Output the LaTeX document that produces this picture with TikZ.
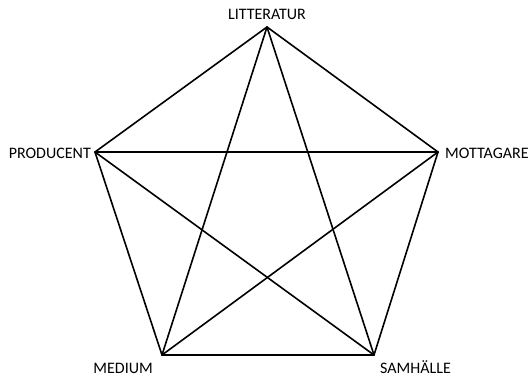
\documentclass[tikz,border=0pt]{standalone}
\usepackage{fontspec}
\setmainfont{Carlito}
\usetikzlibrary{positioning}
\tikzset{
  lbl/.style ={font=\fontsize{16}{18}\selectfont, inner sep=0pt},
  edge/.style={line width=1.6pt, line join=round, line cap=round}
}
\begin{document}
\begin{tikzpicture}[x=1pt, y=-1pt]
    \useasboundingbox (0,0) rectangle (529,377);
    \coordinate (lit) at (267,27);
    \coordinate (prod) at (95,152);
    \coordinate (mott) at (438,152);
    \coordinate (med) at (162,355);
    \coordinate (sam) at (374,355);
    \node[lbl, anchor=base] (litlbl) at (267,20) {LITTERATUR};
    \node[lbl, anchor=base east] (prodlbl) at (91,158) {PRODUCENT};
    \node[lbl, anchor=base west] (mottlbl) at (445,158) {MOTTAGARE};
    \node[lbl, anchor=base east] (medlbl) at (153,373) {MEDIUM};
    \node[lbl, anchor=base west] (samlbl) at (380,373) {SAMHÄLLE};
    % pentagon
    \draw[edge] (lit) -- (mott) -- (sam) -- (med) -- (prod) -- cycle;
    % star
    \draw[edge] (lit) -- (med);
    \draw[edge] (lit) -- (sam);
    \draw[edge] (prod) -- (mott);
    \draw[edge] (prod) -- (sam);
    \draw[edge] (mott) -- (med);
  \end{tikzpicture}
\end{document}
